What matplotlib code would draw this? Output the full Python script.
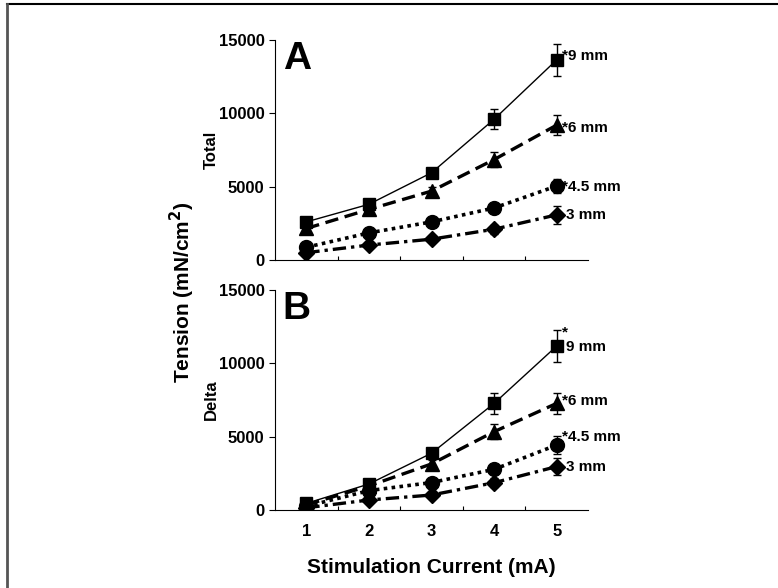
import matplotlib.pyplot as plt
from matplotlib.lines import Line2D

plt.rcParams['font.family'] = ['Liberation Sans', 'DejaVu Sans']
plt.rcParams['font.weight'] = 'bold'

# stimulation current (mA)
current = [1, 2, 3, 4, 5]

# panel A - total tension (mN/cm^2)
total_9 = [2600, 3800, 5950, 9600, 13650]
total_6 = [2150, 3450, 4700, 6850, 9200]
total_45 = [870, 1850, 2600, 3550, 5050]
total_3 = [500, 1020, 1420, 2100, 3080]
total_9_err = [250, 250, 350, 700, 1100]
total_6_err = [200, 200, 300, 500, 700]
total_45_err = [120, 150, 200, 250, 500]
total_3_err = [120, 150, 200, 300, 600]

# panel B - delta tension (mN/cm^2)
delta_9 = [450, 1770, 3870, 7270, 11180]
delta_6 = [350, 1640, 3140, 5340, 7270]
delta_45 = [250, 1320, 1870, 2770, 4430]
delta_3 = [150, 680, 1020, 1860, 2960]
delta_9_err = [200, 250, 300, 700, 1100]
delta_6_err = [150, 200, 300, 500, 700]
delta_45_err = [120, 150, 250, 350, 600]
delta_3_err = [100, 150, 200, 300, 550]

labels = ['*9 mm', '*6 mm', '*4.5 mm', '3 mm']
markers = ['s', '^', 'o', 'D']
styles = ['-', (0, (4, 2)), (0, (1, 1.2)), (0, (4, 1.5, 1, 1.5))]
widths = [1.0, 2.4, 2.6, 2.4]
msizes = [8.5, 9.5, 10, 8]

fig = plt.figure(figsize=(7.78, 5.88), dpi=100)
fig.add_artist(Line2D([0.009, 1.0], [0.993, 0.993], color='black', lw=1.5))
fig.add_artist(Line2D([0.009, 0.009], [0.0, 0.993], color='#555555', lw=2))

axA = fig.add_axes([0.3535, 0.5578, 0.4023, 0.3741])
axB = fig.add_axes([0.3535, 0.1327, 0.4023, 0.3741])

panels = [
    (axA, [total_9, total_6, total_45, total_3],
     [total_9_err, total_6_err, total_45_err, total_3_err], 'A', 'Total',
     [(4, 3), (4, -2), (4, -1), (7, 0)]),
    (axB, [delta_9, delta_6, delta_45, delta_3],
     [delta_9_err, delta_6_err, delta_45_err, delta_3_err], 'B', 'Delta',
     [(7, -1), (4, 2), (4, 6), (7, 0)]),
]

for ax, series, errs, letter, name, offs in panels:
    for i in range(4):
        ax.errorbar(current, series[i], yerr=errs[i], color='black',
                    linestyle=styles[i], linewidth=widths[i], marker=markers[i],
                    markersize=msizes[i], elinewidth=1, capsize=3,
                    capthick=1, dash_capstyle='butt')
        txt = labels[i]
        if letter == 'B' and i == 0:
            txt = '9 mm'
            ax.annotate('*', (current[-1], series[i][-1]), xytext=(4, 10),
                        textcoords='offset points', fontsize=11,
                        fontweight='bold', va='center', ha='left')
        ax.annotate(txt, (current[-1], series[i][-1]), xytext=offs[i],
                    textcoords='offset points', fontsize=11,
                    fontweight='bold', va='center', ha='left')
    ax.set_xlim(0.5, 5.5)
    ax.set_ylim(0, 15000)
    ax.set_yticks([0, 5000, 10000, 15000])
    ax.set_xticks([1.5, 2.5, 3.5, 4.5])
    ax.set_xticklabels([])
    ax.spines['top'].set_visible(False)
    ax.spines['right'].set_visible(False)
    ax.tick_params(axis='y', labelsize=12, length=4, direction='out')
    ax.tick_params(axis='x', length=3, direction='in')
    ax.text(0.025, 0.995, letter, transform=ax.transAxes, fontsize=28,
            fontweight='bold', va='top', ha='left')
    ax.set_ylabel(name, fontsize=12, fontweight='bold', labelpad=0)
    ax.patch.set_alpha(0)

for x in current:
    axB.text(x, -1450, str(x), ha='center', va='center', fontsize=12,
             fontweight='bold')

axB.text(3, -3900, 'Stimulation Current (mA)', ha='center', va='center',
         fontsize=15, fontweight='bold')
fig.text(0.235, 0.503, 'Tension (mN/cm$^\\mathbf{2}$)', rotation=90,
         ha='center', va='center', fontsize=15, fontweight='bold')

fig.savefig('out.png', dpi=100)
